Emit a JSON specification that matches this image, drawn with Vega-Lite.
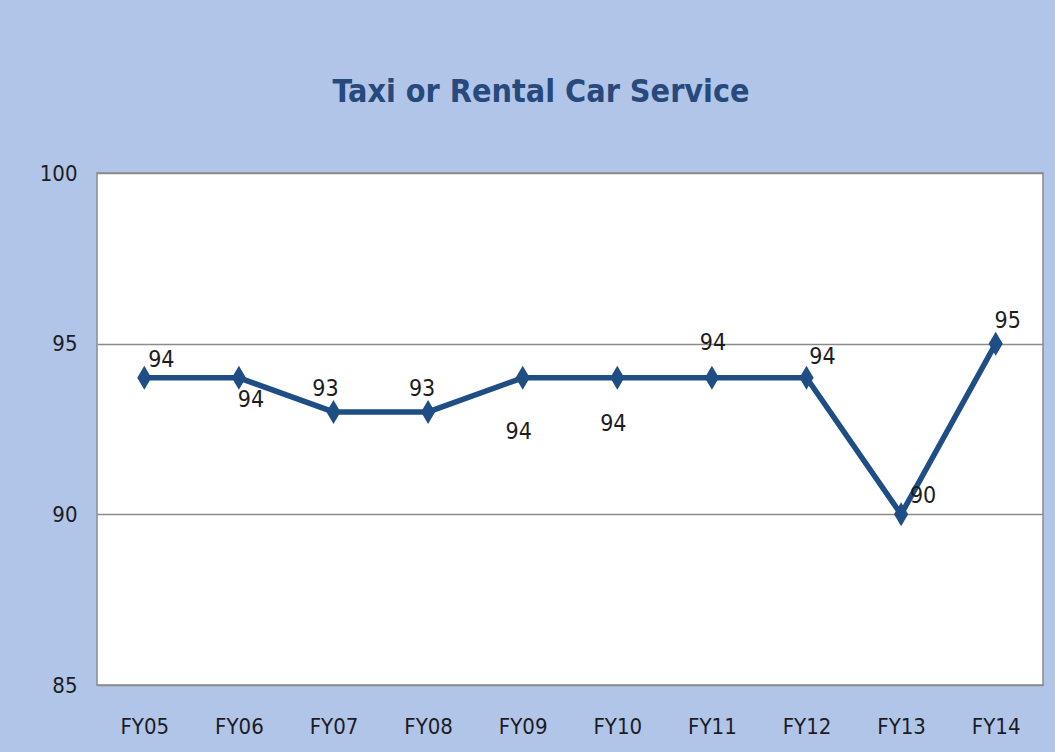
{
  "$schema": "https://vega.github.io/schema/vega-lite/v6.json",
  "width": 946,
  "height": 512,
  "autosize": {"type": "none"},
  "padding": {"left": 97, "top": 173, "right": 12, "bottom": 67},
  "background": "#b1c5e9",
  "title": {
    "text": "Taxi or Rental Car Service",
    "font": "DejaVu Sans Condensed, sans-serif",
    "fontSize": 32,
    "fontWeight": "bold",
    "color": "#27497c",
    "anchor": "middle",
    "dx": -29,
    "offset": 53
  },
  "data": {
    "values": [
      {"year": "FY05", "score": 94},
      {"year": "FY06", "score": 94},
      {"year": "FY07", "score": 93},
      {"year": "FY08", "score": 93},
      {"year": "FY09", "score": 94},
      {"year": "FY10", "score": 94},
      {"year": "FY11", "score": 94},
      {"year": "FY12", "score": 94},
      {"year": "FY13", "score": 90},
      {"year": "FY14", "score": 95}
    ]
  },
  "encoding": {
    "x": {
      "field": "year",
      "type": "ordinal",
      "scale": {"type": "point", "padding": 0.5},
      "axis": {
        "title": null,
        "labelAngle": 0,
        "domain": false,
        "ticks": false,
        "tickSize": 0,
        "labelPadding": 31,
        "labelFont": "DejaVu Sans Condensed, sans-serif",
        "labelFontSize": 22,
        "labelColor": "#1c1c24",
        "grid": false
      }
    },
    "y": {
      "field": "score",
      "type": "quantitative",
      "scale": {"domain": [85, 100], "nice": false, "zero": false},
      "axis": {
        "title": null,
        "values": [85, 90, 95, 100],
        "domain": false,
        "ticks": false,
        "tickSize": 0,
        "labelPadding": 20,
        "labelFont": "DejaVu Sans Condensed, sans-serif",
        "labelFontSize": 22,
        "labelColor": "#1c1c24",
        "grid": true,
        "gridColor": "#8a8a8a",
        "gridWidth": 1.3
      }
    }
  },
  "layer": [
    {
      "mark": {"type": "line", "color": "#1f4e85", "strokeWidth": 5.5}
    },
    {
      "mark": {
        "type": "point",
        "shape": "M-1,0L0,-1.7L1,0L0,1.7Z",
        "filled": true,
        "opacity": 1,
        "size": 200,
        "color": "#1f4e85"
      }
    },
    {
      "transform": [{"filter": "datum.year === 'FY05'"}],
      "mark": {"type": "text", "dx": 17, "dy": -18, "fontSize": 23, "font": "DejaVu Sans Condensed, sans-serif", "color": "#1c1c24"},
      "encoding": {"text": {"field": "score"}}
    },
    {
      "transform": [{"filter": "datum.year === 'FY06'"}],
      "mark": {"type": "text", "dx": 12, "dy": 22, "fontSize": 23, "font": "DejaVu Sans Condensed, sans-serif", "color": "#1c1c24"},
      "encoding": {"text": {"field": "score"}}
    },
    {
      "transform": [{"filter": "datum.year === 'FY07'"}],
      "mark": {"type": "text", "dx": -8, "dy": -23, "fontSize": 23, "font": "DejaVu Sans Condensed, sans-serif", "color": "#1c1c24"},
      "encoding": {"text": {"field": "score"}}
    },
    {
      "transform": [{"filter": "datum.year === 'FY08'"}],
      "mark": {"type": "text", "dx": -6, "dy": -23, "fontSize": 23, "font": "DejaVu Sans Condensed, sans-serif", "color": "#1c1c24"},
      "encoding": {"text": {"field": "score"}}
    },
    {
      "transform": [{"filter": "datum.year === 'FY09'"}],
      "mark": {"type": "text", "dx": -4, "dy": 54, "fontSize": 23, "font": "DejaVu Sans Condensed, sans-serif", "color": "#1c1c24"},
      "encoding": {"text": {"field": "score"}}
    },
    {
      "transform": [{"filter": "datum.year === 'FY10'"}],
      "mark": {"type": "text", "dx": -4, "dy": 46, "fontSize": 23, "font": "DejaVu Sans Condensed, sans-serif", "color": "#1c1c24"},
      "encoding": {"text": {"field": "score"}}
    },
    {
      "transform": [{"filter": "datum.year === 'FY11'"}],
      "mark": {"type": "text", "dx": 1, "dy": -35, "fontSize": 23, "font": "DejaVu Sans Condensed, sans-serif", "color": "#1c1c24"},
      "encoding": {"text": {"field": "score"}}
    },
    {
      "transform": [{"filter": "datum.year === 'FY12'"}],
      "mark": {"type": "text", "dx": 16, "dy": -21, "fontSize": 23, "font": "DejaVu Sans Condensed, sans-serif", "color": "#1c1c24"},
      "encoding": {"text": {"field": "score"}}
    },
    {
      "transform": [{"filter": "datum.year === 'FY13'"}],
      "mark": {"type": "text", "dx": 22, "dy": -18, "fontSize": 23, "font": "DejaVu Sans Condensed, sans-serif", "color": "#1c1c24"},
      "encoding": {"text": {"field": "score"}}
    },
    {
      "transform": [{"filter": "datum.year === 'FY14'"}],
      "mark": {"type": "text", "dx": 12, "dy": -23, "fontSize": 23, "font": "DejaVu Sans Condensed, sans-serif", "color": "#1c1c24"},
      "encoding": {"text": {"field": "score"}}
    }
  ],
  "config": {
    "view": {"fill": "white", "stroke": "#8a8a8a", "strokeWidth": 1.5}
  }
}
